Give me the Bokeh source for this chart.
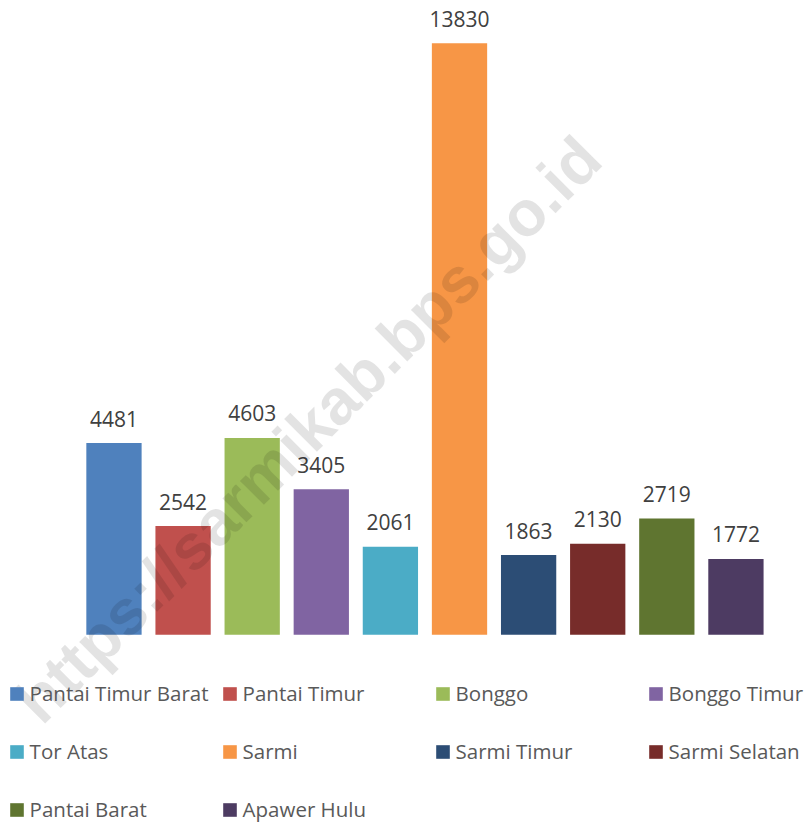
from bokeh.plotting import figure
from bokeh.models import ColumnDataSource, Range1d, Legend, LegendItem, Label
from bokeh.core.properties import value
from bokeh.embed import file_html
from bokeh.resources import INLINE

districts = ["Pantai Timur Barat", "Pantai Timur", "Bonggo", "Bonggo Timur", "Tor Atas",
             "Sarmi", "Sarmi Timur", "Sarmi Selatan", "Pantai Barat", "Apawer Hulu"]
counts = [4481, 2542, 4603, 3405, 2061, 13830, 1863, 2130, 2719, 1772]
colors = ["#4F81BD", "#C0504D", "#9BBB59", "#8064A2", "#4BACC6",
          "#F79646", "#2C4D75", "#772C2A", "#5F7530", "#4D3B62"]
watermark = "https://sarmikab.bps.go.id"

src = ColumnDataSource(dict(x=list(range(len(districts))), name=districts, top=counts,
                            color=colors, label=[str(v) for v in counts]))

p = figure(x_range=Range1d(-1.642, 10.079), y_range=Range1d(-4435, 14828),
           width=810, height=824, output_backend="svg", toolbar_location=None,
           min_border_left=0, min_border_right=0, min_border_top=0, min_border_bottom=0)
p.outline_line_color = None
p.xgrid.visible = False
p.ygrid.visible = False
p.xaxis.visible = False
p.yaxis.visible = False

r = p.vbar(x="x", top="top", bottom=0, width=0.8, color="color", line_color=None, source=src)
p.text(x="x", y="top", text="label", source=src, text_align="center", text_baseline="alphabetic",
       y_offset=-24.5, text_font=value("Open Sans"), text_font_size="21px", text_color="#404040")

items = [LegendItem(label=d, renderers=[r], index=i) for i, d in enumerate(districts)]
legend = Legend(items=items, ncols=4, orientation="horizontal", location=(7.6, -8.7),
                glyph_width=17, glyph_height=17, label_standoff=5, label_width=180,
                label_height=47, spacing=11, padding=0, margin=0,
                border_line_color=None, background_fill_alpha=0,
                label_text_font="Open Sans", label_text_font_size="20.5px",
                label_text_color="#595959", label_text_baseline="alphabetic")
p.add_layout(legend, "center")

wm = Label(x=2.81, y=4799, text=watermark, angle=45, angle_units="deg",
           text_align="center", text_baseline="alphabetic",
           text_font="Liberation Sans", text_font_style="bold", text_font_size="64px",
           text_color="#000000", text_alpha=0.11)
p.add_layout(wm)

open("out.html", "w").write(file_html(p, INLINE))
